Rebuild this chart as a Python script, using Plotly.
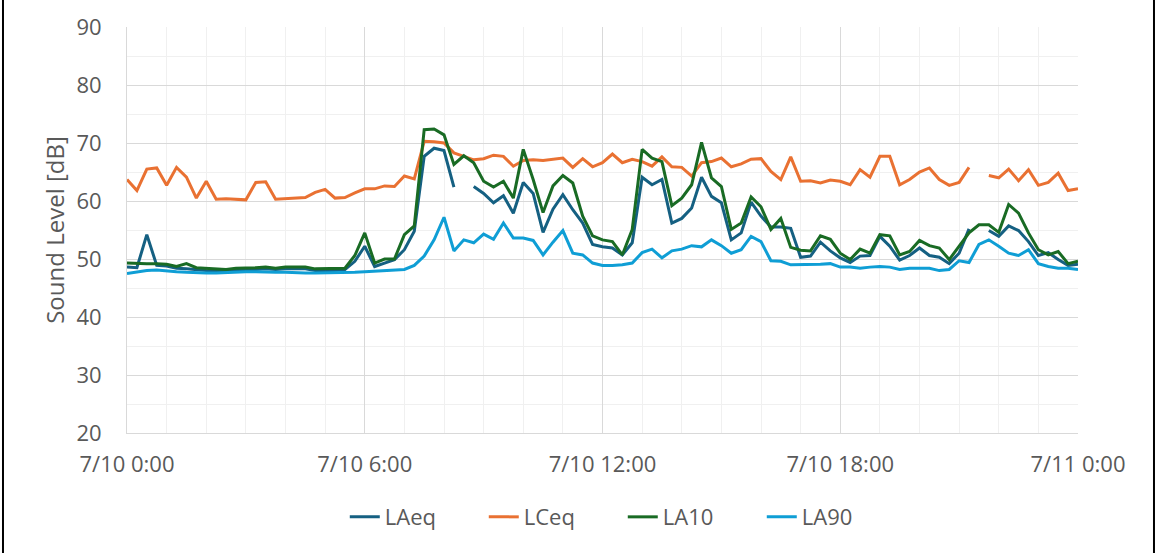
import pandas as pd
import plotly.graph_objects as go

# 15-minute intervals over one day
times = pd.date_range("2024-07-10 00:00", periods=97, freq="15min")

laeq = [48.6, 48.5, 54.2, 48.9, 48.8, 48.4, 48.3, 48.1, 48.0, 47.9,
        47.9, 48.1, 48.1, 48.2, 48.3, 48.2, 48.3, 48.3, 48.3, 48.0,
        48.0, 48.0, 48.2, 49.6, 52.2, 48.7, 49.3, 49.9, 51.6, 54.8,
        67.7, 69.1, 68.7, 62.4, None, 62.5, 61.3, 59.7, 60.9, 57.9,
        63.2, 61.3, 54.6, 58.6, 61.1, 58.5, 56.2, 52.5, 52.1, 51.9,
        50.7, 52.8, 64.1, 62.8, 63.7, 56.2, 57.0, 58.8, 64.1, 60.8,
        59.7, 53.3, 54.5, 59.8, 57.4, 55.5, 55.5, 55.3, 50.3, 50.5,
        52.9, 51.4, 50.2, 49.4, 50.5, 50.6, 53.9, 52.2, 49.8, 50.6,
        51.9, 50.6, 50.3, 49.2, 51.0, 55.2, None, 54.9, 53.9, 55.7,
        54.9, 53.0, 50.6, 51.1, 49.9, 48.9, 49.1]

lceq = [63.7, 61.8, 65.5, 65.7, 62.7, 65.8, 64.1, 60.5, 63.4, 60.3,
        60.4, 60.3, 60.2, 63.2, 63.3, 60.3, 60.4, 60.5, 60.6, 61.5,
        62.0, 60.5, 60.6, 61.4, 62.1, 62.1, 62.6, 62.5, 64.3, 63.8,
        70.3, 70.2, 70.0, 68.3, 67.7, 67.1, 67.3, 67.9, 67.7, 66.0,
        67.0, 67.1, 67.0, 67.2, 67.4, 65.8, 67.3, 65.9, 66.6, 68.1,
        66.6, 67.2, 66.8, 66.0, 67.6, 65.9, 65.8, 64.3, 66.6, 66.8,
        67.4, 65.9, 66.4, 67.2, 67.3, 65.1, 63.7, 67.6, 63.4, 63.5,
        63.1, 63.6, 63.4, 62.8, 65.4, 64.1, 67.7, 67.7, 62.8, 63.7,
        65.0, 65.7, 63.7, 62.7, 63.2, 65.8, None, 64.4, 64.0, 65.5,
        63.5, 65.4, 62.7, 63.2, 64.8, 61.8, 62.1]

la10 = [49.3, 49.2, 49.2, 49.2, 49.1, 48.7, 49.2, 48.5, 48.4, 48.2,
        48.2, 48.4, 48.4, 48.5, 48.6, 48.4, 48.6, 48.6, 48.6, 48.3,
        48.3, 48.3, 48.4, 50.6, 54.5, 49.3, 50.0, 50.0, 54.2, 55.7,
        72.3, 72.4, 71.4, 66.3, 67.8, 66.6, 63.4, 62.4, 63.4, 60.5,
        68.9, 63.7, 58.0, 62.6, 64.4, 63.1, 57.4, 54.0, 53.3, 53.0,
        50.7, 55.1, 68.9, 67.4, 66.8, 59.2, 60.5, 62.8, 70.1, 64.0,
        62.5, 55.1, 56.2, 60.7, 59.0, 55.1, 57.0, 52.0, 51.5, 51.4,
        54.0, 53.4, 51.0, 49.9, 51.7, 51.0, 54.2, 54.0, 50.7, 51.3,
        53.2, 52.3, 51.9, 49.9, 52.3, 54.5, 55.9, 55.9, 54.6, 59.4,
        57.9, 54.5, 51.6, 50.7, 51.3, 49.2, 49.6]

la90 = [47.5, 47.8, 48.0, 48.1, 47.9, 47.8, 47.7, 47.6, 47.6, 47.6,
        47.7, 47.8, 47.8, 47.8, 47.7, 47.7, 47.7, 47.6, 47.6, 47.6,
        47.6, 47.6, 47.7, 47.7, 47.8, 47.9, 47.9, 48.0, 48.2, 48.9,
        50.5, 53.3, 57.2, 51.4, 53.3, 52.8, 54.3, 53.4, 56.2, 53.6,
        53.6, 53.2, 50.7, 52.9, 54.9, 51.0, 50.7, 49.3, 48.9, 48.9,
        49.0, 49.3, 51.1, 51.7, 50.2, 51.4, 51.7, 52.3, 52.1, 53.3,
        52.3, 51.0, 51.6, 53.9, 53.0, 49.7, 49.6, 49.0, 49.0, 49.1,
        49.1, 49.2, 48.6, 48.6, 48.4, 48.6, 48.7, 48.6, 48.2, 48.4,
        48.4, 48.4, 48.0, 48.2, 49.7, 49.4, 52.5, 53.3, 52.2, 51.0,
        50.6, 51.6, 49.2, 48.7, 48.4, 48.4, 48.2]

series = [
    ("LAeq", laeq, "#156082"),
    ("LCeq", lceq, "#E97132"),
    ("LA10", la10, "#196B24"),
    ("LA90", la90, "#0F9ED5"),
]

FONT = "Open Sans"
TXT = "#595959"

fig = go.Figure()
for name, vals, col in series:
    fig.add_trace(go.Scatter(
        x=times, y=vals, name=name, mode="lines",
        line=dict(color=col, width=3), connectgaps=False,
    ))

fig.update_layout(
    width=1156, height=553,
    margin=dict(l=127, r=78, t=27, b=120, autoexpand=False),
    plot_bgcolor="white", paper_bgcolor="white",
    font=dict(family=FONT, size=22, color=TXT),
    showlegend=True,
    legend=dict(
        orientation="h", x=0.229, xanchor="left", y=-0.207, yanchor="middle",
        font=dict(size=22, color=TXT), entrywidth=94, entrywidthmode="pixels",
        traceorder="normal",
    ),
    xaxis=dict(
        type="date",
        range=[times[0], times[-1]],
        dtick=6 * 3600 * 1000,
        tick0=times[0],
        tickformat="%-m/%-d %-H:%M",
        showgrid=True, gridcolor="#D9D9D9", gridwidth=1,
        minor=dict(dtick=3600 * 1000, showgrid=True, gridcolor="#F0F0F0", gridwidth=1),
        showline=True, linecolor="#D9D9D9", linewidth=1,
        ticks="", ticklabelstandoff=12,
        zeroline=False, automargin=False,
    ),
    yaxis=dict(
        range=[20, 90], dtick=10,
        title=dict(text="Sound Level [dB]", standoff=5, font=dict(size=24, color=TXT)),
        showgrid=True, gridcolor="#D9D9D9", gridwidth=1,
        minor=dict(dtick=5, showgrid=True, gridcolor="#F0F0F0", gridwidth=1),
        showline=True, linecolor="#D9D9D9", linewidth=1,
        ticks="", ticklabelstandoff=20,
        zeroline=False, automargin=False,
    ),
)

# black frame edges on left and right of the picture
for px in (-0.1304, 1.0799):
    fig.add_shape(type="line", xref="paper", yref="paper",
                  x0=px, x1=px, y0=-0.2956, y1=1.0665,
                  line=dict(color="black", width=2))

# drop the default page margin so the figure sits at the window origin
fig.write_html("out.html", config={"displayModeBar": False},
               post_script="document.body.style.margin='0px';")
